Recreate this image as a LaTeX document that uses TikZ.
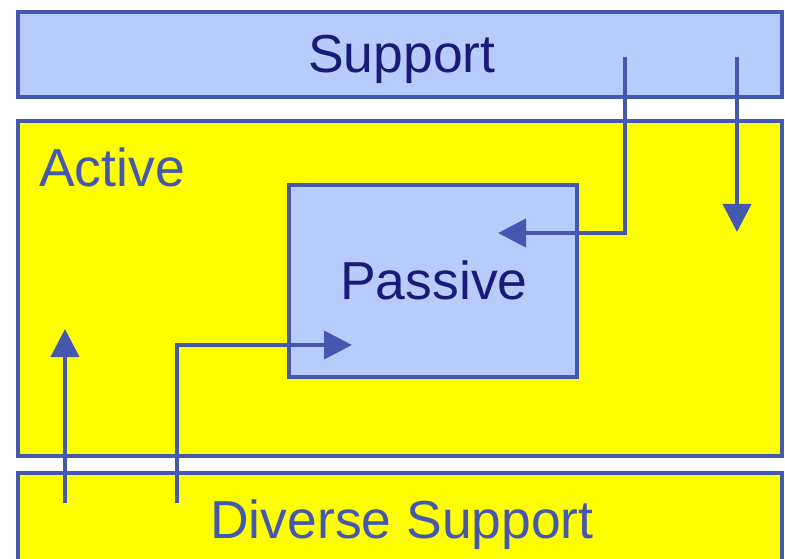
\documentclass[tikz,border=0pt]{standalone}
\usepackage{fontspec}
\setmainfont{Liberation Sans}
\usetikzlibrary{arrows.meta}
\definecolor{edgeblue}{RGB}{68,88,176}
\definecolor{paleblue}{RGB}{184,204,252}
\definecolor{navytext}{RGB}{26,26,120}
\definecolor{brightyellow}{RGB}{255,255,0}
\tikzset{
  box/.style={draw=edgeblue, line width=4pt, rectangle, inner sep=0pt, outer sep=0pt, anchor=north west},
  lbl/.style={inner sep=0pt, anchor=base west, font=\fontsize{53.5}{60}\selectfont},
  flow/.style={draw=edgeblue, line width=4pt, -{Triangle[length=28pt,width=28pt]}},
}
\begin{document}
\begin{tikzpicture}[x=1pt,y=-1pt]
\useasboundingbox (0,0) rectangle (785,559);
\fill[white] (0,0) rectangle (785,559);
% boxes
\node[box, fill=paleblue, minimum width=764pt, minimum height=85pt] (support) at (18,12) {};
\node[box, fill=brightyellow, minimum width=764pt, minimum height=335pt] (active) at (18,121) {};
\node[box, fill=brightyellow, minimum width=764pt, minimum height=130pt] (diverse) at (18,473) {};
\node[box, fill=paleblue, minimum width=288pt, minimum height=192pt] (passive) at (289,185) {};
% labels
\node[lbl, text=navytext] (supportlbl) at (308,73) {Support};
\node[lbl, text=edgeblue] (activelbl) at (39,186) {Active};
\node[lbl, text=navytext] (passivelbl) at (340,299) {Passive};
\node[lbl, text=edgeblue] (diverselbl) at (210,538) {Diverse Support};
% connector ends
\coordinate (s1) at (625,57);
\coordinate (t1) at (498,233);
\coordinate (s2) at (737,57);
\coordinate (t2) at (737,232);
\coordinate (s3) at (65,503);
\coordinate (t3) at (65,329);
\coordinate (s4) at (177,503);
\coordinate (t4) at (352,345);
% connectors
\draw[flow] (s1) |- (t1);
\draw[flow] (s2) -- (t2);
\draw[flow] (s3) -- (t3);
\draw[flow] (s4) |- (t4);
\end{tikzpicture}
\end{document}
